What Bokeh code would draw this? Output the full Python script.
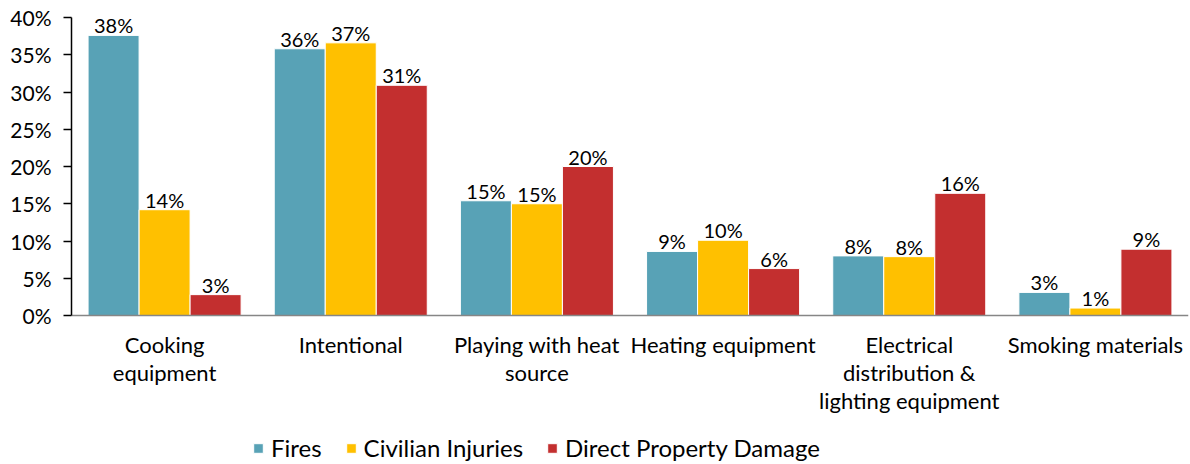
from bokeh.plotting import figure
from bokeh.models import ColumnDataSource, Legend, LegendItem, FactorRange, Range1d, FixedTicker
from bokeh.transform import dodge
from bokeh.core.properties import value
from bokeh.embed import file_html
from bokeh.resources import INLINE

categories = ["Cooking\nequipment", "Intentional", "Playing with heat\nsource",
              "Heating equipment", "Electrical\ndistribution &\nlighting equipment",
              "Smoking materials"]
fires = [37.6, 35.8, 15.4, 8.6, 8.0, 3.1]
civilian_injuries = [14.2, 36.6, 15.0, 10.1, 7.9, 1.0]
property_damage = [2.8, 30.9, 20.0, 6.3, 16.4, 8.9]
series_names = ["Fires", "Civilian Injuries", "Direct Property Damage"]
series_colors = ["#58A2B6", "#FFC000", "#C32F2F"]
y_ticks = [0, 5, 10, 15, 20, 25, 30, 35, 40]

FONT = "Lato"

src = ColumnDataSource(dict(
    cat=categories,
    fires=fires,
    ci=civilian_injuries,
    dpd=property_damage,
    fires_lbl=[f"{v:.0f}%" for v in fires],
    ci_lbl=[f"{v:.0f}%" for v in civilian_injuries],
    dpd_lbl=[f"{v:.0f}%" for v in property_damage],
))

# frame spans the whole lower area; the value axis only covers 0-40
p = figure(width=1190, height=464, x_range=FactorRange(*categories, range_padding=0),
           y_range=Range1d(-20, 40), output_backend="svg", toolbar_location=None,
           min_border_left=71, min_border_top=17, min_border_right=2, min_border_bottom=0)
p.outline_line_color = None
p.xgrid.visible = False
p.ygrid.visible = False

bw = 0.274
offsets = [-bw, 0, bw]
fields = ["fires", "ci", "dpd"]
items = []
for off, f, name, col in zip(offsets, fields, series_names, series_colors):
    r = p.vbar(x=dodge("cat", off, range=p.x_range), top=f, bottom=0, width=bw, source=src,
               fill_color=col, line_color="white", line_width=1)
    p.text(x=dodge("cat", off, range=p.x_range), y=f, text=f + "_lbl", source=src,
           text_align="center", text_baseline="bottom", y_offset=2,
           text_font=value(FONT), text_font_size="20px", text_color="black")
    items.append(LegendItem(label=name, renderers=[r]))

xa = p.xaxis[0]
xa.fixed_location = 0
xa.major_tick_line_color = None
xa.minor_tick_line_color = None
xa.axis_line_color = "#868686"
xa.axis_line_width = 1.5
xa.major_label_text_font = FONT
xa.major_label_text_font_size = "22px"
xa.major_label_text_color = "black"
xa.major_label_text_line_height = 1.05
xa.major_label_standoff = 9

ya = p.yaxis[0]
ya.ticker = FixedTicker(ticks=y_ticks)
ya.bounds = (0, 40)
ya.major_label_overrides = {t: f"{t}%" for t in y_ticks}
ya.axis_line_color = "black"
ya.axis_line_width = 1.5
ya.major_tick_line_color = "black"
ya.major_tick_line_width = 1.5
ya.major_tick_out = 8
ya.major_tick_in = 0
ya.minor_tick_line_color = None
ya.major_label_text_font = FONT
ya.major_label_text_font_size = "21px"
ya.major_label_text_color = "black"
ya.major_label_standoff = 12

legend = Legend(items=items, orientation="horizontal", location=(181, 2),
                border_line_color=None, background_fill_alpha=0,
                label_text_font=FONT, label_text_font_size="24px",
                label_text_color="black",
                glyph_width=12, glyph_height=12, label_standoff=7, spacing=23,
                label_height=22, padding=0, margin=0)
p.add_layout(legend, "center")

open("out.html", "w").write(file_html(p, INLINE))
